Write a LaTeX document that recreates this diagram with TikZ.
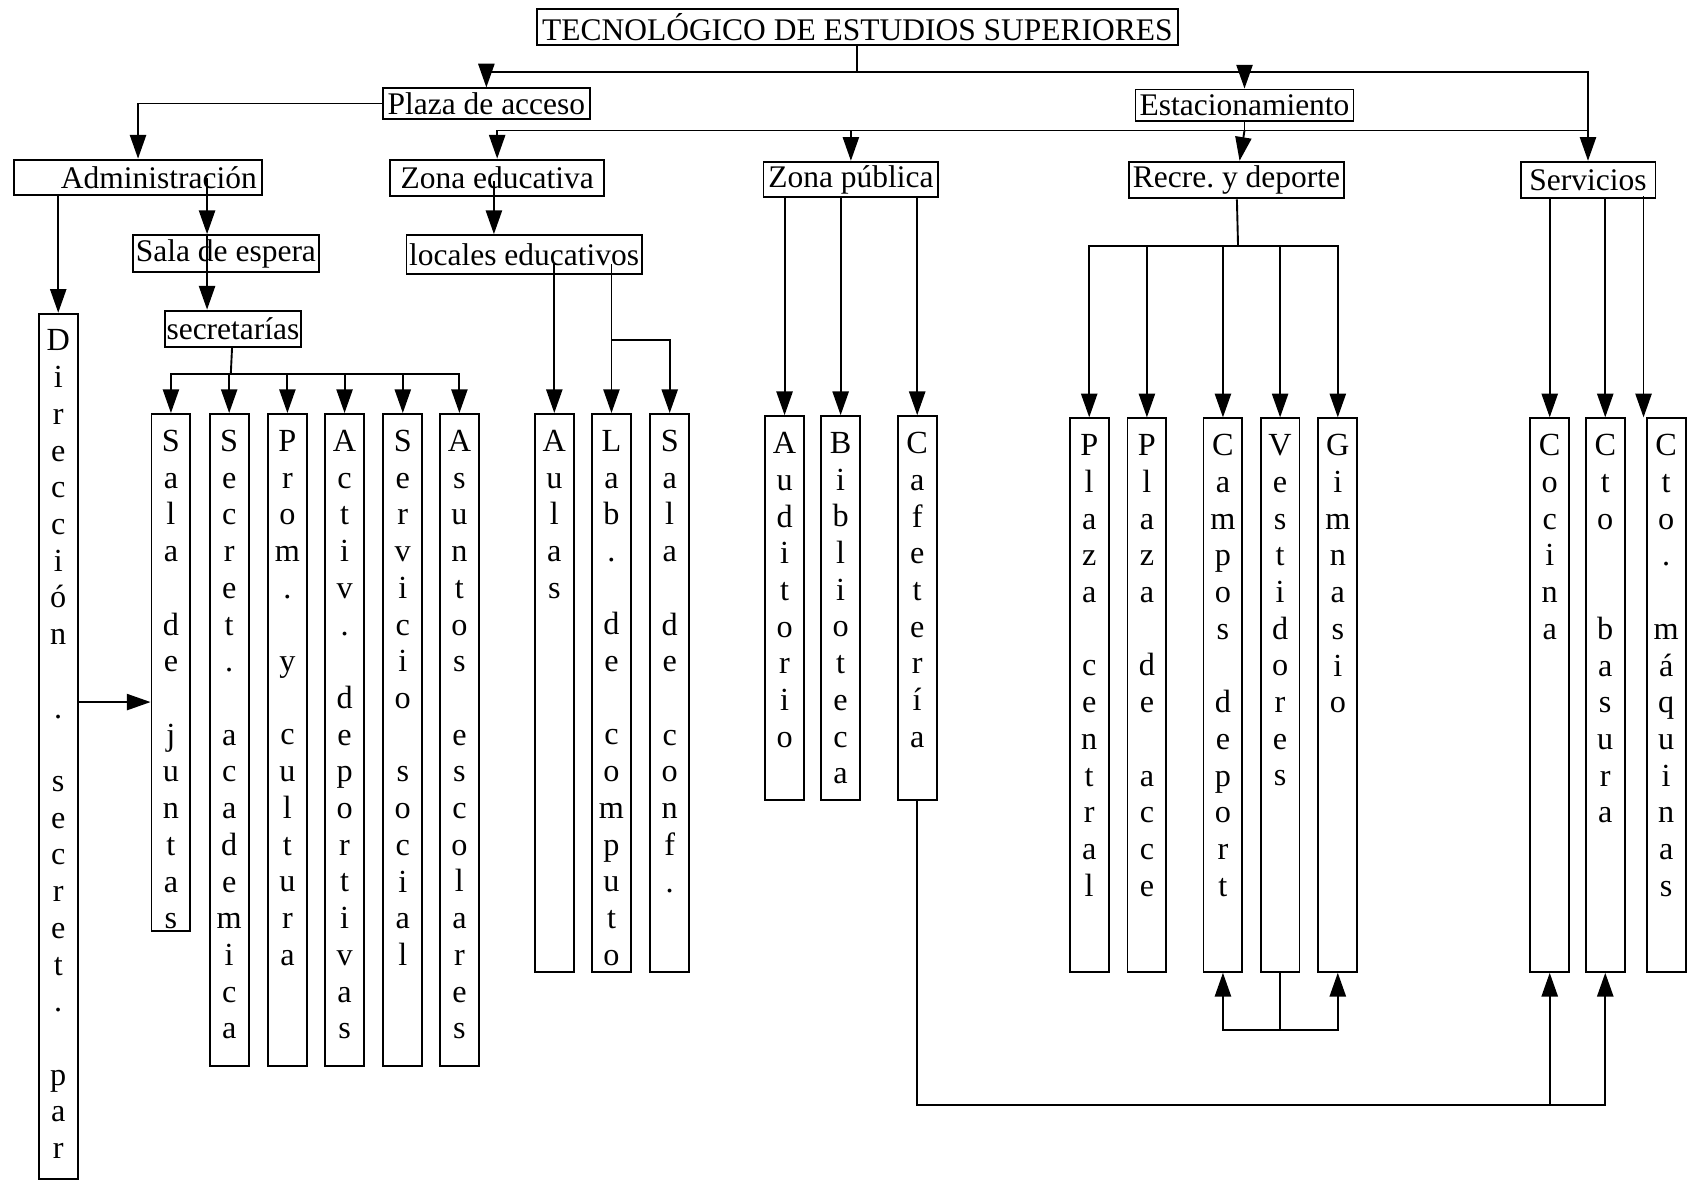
\documentclass[tikz,border=0pt]{standalone}
\usepackage{fontspec}
\setmainfont{Liberation Serif}
\usetikzlibrary{arrows.meta}

\begin{document}
\begin{tikzpicture}[x=0.01cm,y=-0.01cm,>={Triangle[length=2.2mm,width=1.5mm]},line width=0.5pt,
  tbox/.style={draw,inner sep=0pt,font=\fontsize{8.3}{10}\selectfont},
  cbox/.style={draw,anchor=north,minimum width=0.36cm,inner sep=0pt},
  ctxt/.style={anchor=north,align=center,inner sep=0pt,yshift=-0.15cm,font=\fontsize{8.5}{9.68}\selectfont}]
\useasboundingbox (0,0) rectangle (1568,1094);

% zonas
\node[tbox,minimum width=5.94cm,minimum height=0.34cm] (tes) at (795,25) {TECNOLÓGICO DE ESTUDIOS SUPERIORES};
\node[tbox,minimum width=1.92cm,minimum height=0.28cm] (plaza) at (451,96) {Plaza de acceso};
\node[tbox,minimum width=2.02cm,minimum height=0.29cm] (estac) at (1154,97.5) {Estacionamiento};
\node[tbox,minimum height=0.33cm,text width=2.2cm,align=right,inner xsep=0.05cm] (admin) at (128,164.5) {Administración};
\node[tbox,minimum width=1.98cm,minimum height=0.34cm] (zedu) at (461,165) {Zona educativa};
\node[tbox,minimum width=1.62cm,minimum height=0.33cm] (zpub) at (789,166.5) {Zona pública};
\node[tbox,minimum width=1.99cm,minimum height=0.34cm] (recre) at (1146.5,167) {Recre.\ y deporte};
\node[tbox,minimum width=1.25cm,minimum height=0.34cm] (serv) at (1472.5,167) {Servicios};
\node[tbox,minimum width=1.73cm,minimum height=0.34cm] (sala) at (209.5,235) {Sala de espera};
\node[tbox,minimum width=1.26cm,minimum height=0.34cm] (secr) at (216,305) {secretarías};
\node[tbox,minimum width=2.18cm,minimum height=0.36cm] (locales) at (486,236) {locales educativos};

% locales
\node[cbox,minimum height=8.02cm,label={[ctxt]north:{D\\i\\r\\e\\c\\c\\i\\ó\\n\\~\\.\\~\\s\\e\\c\\r\\e\\t\\.\\~\\p\\a\\r}}] (direc) at (54,290) {};
\node[cbox,minimum height=4.79cm,label={[ctxt]north:{S\\a\\l\\a\\~\\d\\e\\~\\j\\u\\n\\t\\a\\s}}] (juntas) at (158.5,383) {};
\node[cbox,minimum height=6.04cm,label={[ctxt]north:{S\\e\\c\\r\\e\\t\\.\\~\\a\\c\\a\\d\\e\\m\\i\\c\\a}}] (secac) at (212.5,383) {};
\node[cbox,minimum height=6.04cm,label={[ctxt]north:{P\\r\\o\\m\\.\\~\\y\\~\\c\\u\\l\\t\\u\\r\\a}}] (prom) at (266.5,383) {};
\node[cbox,minimum height=6.04cm,label={[ctxt]north:{A\\c\\t\\i\\v\\.\\~\\d\\e\\p\\o\\r\\t\\i\\v\\a\\s}}] (activ) at (319.5,383) {};
\node[cbox,minimum height=6.04cm,label={[ctxt]north:{S\\e\\r\\v\\i\\c\\i\\o\\~\\s\\o\\c\\i\\a\\l}}] (sersoc) at (373.5,383) {};
\node[cbox,minimum height=6.04cm,label={[ctxt]north:{A\\s\\u\\n\\t\\o\\s\\~\\e\\s\\c\\o\\l\\a\\r\\e\\s}}] (asun) at (426,383) {};
\node[cbox,minimum height=5.17cm,label={[ctxt]north:{A\\u\\l\\a\\s}}] (aulas) at (514,383) {};
\node[cbox,minimum height=5.17cm,label={[ctxt]north:{L\\a\\b\\.\\~\\d\\e\\~\\c\\o\\m\\p\\u\\t\\o}}] (lab) at (567,383) {};
\node[cbox,minimum height=5.17cm,label={[ctxt]north:{S\\a\\l\\a\\~\\d\\e\\~\\c\\o\\n\\f\\.}}] (conf) at (621,383) {};
\node[cbox,minimum height=3.56cm,label={[ctxt]north:{A\\u\\d\\i\\t\\o\\r\\i\\o}}] (audit) at (727.5,385) {};
\node[cbox,minimum height=3.56cm,label={[ctxt]north:{B\\i\\b\\l\\i\\o\\t\\e\\c\\a}}] (biblio) at (779.5,385) {};
\node[cbox,minimum height=3.56cm,label={[ctxt]north:{C\\a\\f\\e\\t\\e\\r\\í\\a}}] (cafe) at (850.5,385) {};
\node[cbox,minimum height=5.13cm,label={[ctxt]north:{P\\l\\a\\z\\a\\~\\c\\e\\n\\t\\r\\a\\l}}] (pcen) at (1010,387) {};
\node[cbox,minimum height=5.13cm,label={[ctxt]north:{P\\l\\a\\z\\a\\~\\d\\e\\~\\a\\c\\c\\e}}] (pacc) at (1063.5,387) {};
\node[cbox,minimum height=5.13cm,label={[ctxt]north:{C\\a\\m\\p\\o\\s\\~\\d\\e\\p\\o\\r\\t}}] (campos) at (1134,387) {};
\node[cbox,minimum height=5.13cm,label={[ctxt]north:{V\\e\\s\\t\\i\\d\\o\\r\\e\\s}}] (vest) at (1187,387) {};
\node[cbox,minimum height=5.13cm,label={[ctxt]north:{G\\i\\m\\n\\a\\s\\i\\o}}] (gim) at (1240.5,387) {};
\node[cbox,minimum height=5.13cm,label={[ctxt]north:{C\\o\\c\\i\\n\\a}}] (cocina) at (1437,387) {};
\node[cbox,minimum height=5.13cm,label={[ctxt]north:{C\\t\\o\\~\\~\\b\\a\\s\\u\\r\\a}}] (basura) at (1488.5,387) {};
\node[cbox,minimum height=5.13cm,label={[ctxt]north:{C\\t\\o\\.\\~\\m\\á\\q\\u\\i\\n\\a\\s}}] (maq) at (1545,387) {};

% conexiones
\coordinate (t1) at (795,67);
\coordinate (e1) at (1154,121);
\coordinate (a1) at (192,165);
\coordinate (s1) at (214,347);
\coordinate (z1) at (458,168);
\coordinate (l1) at (514,245);
\coordinate (l2) at (567,245);
\coordinate (l3) at (567,315);
\coordinate (r1) at (1148,228);
\coordinate (m1) at (1524,182);
\coordinate (dj) at (72,651);
\coordinate (cb) at (850.5,1025);
\coordinate (vb) at (1187,955);

\draw (tes) -- (t1);
\draw[->] (t1) -| (plaza);
\draw[->] (t1) -| (estac);
\draw[->] (t1) -| (serv);
\draw (estac) -- (e1);
\draw (e1) -- (e1 -| serv);
\draw[->] (e1) -| (zedu);
\draw[->] (e1) -| (zpub);
\draw[->] (e1) -- (recre);
\draw[->] (plaza.west) -| (admin);
\draw[->] (admin.south -| direc) -- (direc);
\draw[->] (a1) -- (a1 |- sala.north);
\draw[->] (a1 |- sala.north) -- (a1 |- secr.north);
\draw (secr) -- (s1);
\foreach \n in {juntas,secac,prom,activ,sersoc,asun}
  \draw[->] (s1) -| (\n);
\draw[->] (dj) -- (dj -| juntas.west);
\draw[->] (z1) -- (z1 |- locales.north);
\draw[->] (l1) -- (aulas);
\draw[->] (l2) -- (lab);
\draw[->] (l3) -| (conf);
\foreach \n in {audit,biblio,cafe}
  \draw[->] (zpub.south -| \n) -- (\n);
\draw (recre) -- (r1);
\foreach \n in {pcen,pacc,campos,vest,gim}
  \draw[->] (r1) -| (\n);
\foreach \n in {cocina,basura}
  \draw[->] (serv.south -| \n) -- (\n);
\draw[->] (m1) -- (m1 |- maq.north);
\draw (vest) -- (vb);
\draw[->] (vb) -| (campos);
\draw[->] (vb) -| (gim);
\draw[->] (cafe) -- (cb) -| (basura);
\draw[->] (cb -| cocina) -- (cocina);
\end{tikzpicture}
\end{document}
